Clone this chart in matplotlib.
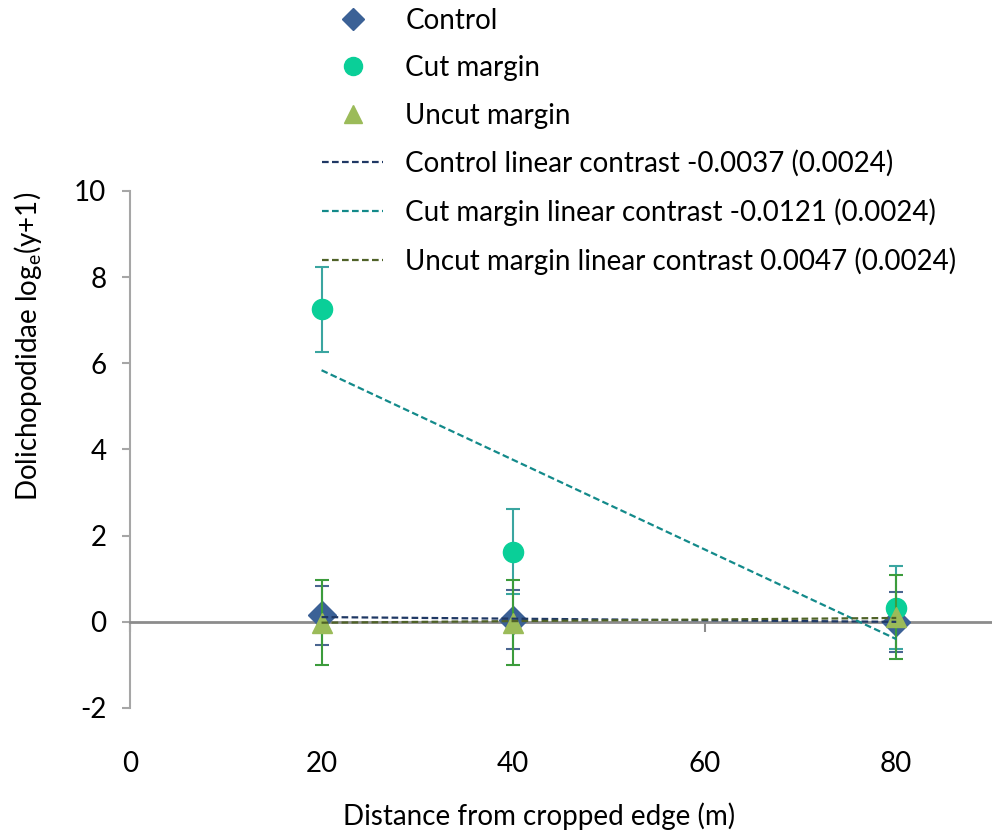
import matplotlib.pyplot as plt
from matplotlib.lines import Line2D

plt.rcParams['font.family'] = ['Lato', 'DejaVu Sans']
plt.rcParams['axes.unicode_minus'] = False

distance = [20, 40, 80]

control_mean = [0.15, 0.05, 0.0]
control_err = [0.69, 0.68, 0.69]
cut_mean = [7.25, 1.63, 0.33]
cut_err = [0.98, 0.98, 0.97]
uncut_mean = [-0.02, -0.02, 0.11]
uncut_err = [0.98, 0.98, 0.98]

# fitted contrast lines (ends at 20 m and 80 m)
trend_x = [20, 80]
control_trend = [0.11, 0.0]
cut_trend = [5.84, -0.40]
uncut_trend = [-0.02, 0.09]

trend_labels = ['Control linear contrast -0.0037 (0.0024)',
                'Cut margin linear contrast -0.0121 (0.0024)',
                'Uncut margin linear contrast 0.0047 (0.0024)']

fs = 20
dash = (0, (3, 1.5))
fig = plt.figure(figsize=(9.92, 8.34), dpi=100)
ax = fig.add_axes([130 / 992, 126 / 834, 862 / 992, 517 / 834])

ax.errorbar(distance, control_mean, yerr=control_err, fmt='D', color='#3b6196',
            ms=14, ecolor='#4a6590', elinewidth=1.5, capsize=4.7, capthick=1.5, zorder=3)
ax.errorbar(distance, cut_mean, yerr=cut_err, fmt='o', color='#0acf98',
            ms=14.5, ecolor='#3aa5a0', elinewidth=1.5, capsize=4.7, capthick=1.5, zorder=4)
ax.errorbar(distance, uncut_mean, yerr=uncut_err, fmt='^', color='#9bbb59',
            ms=15, ecolor='#3c9c3c', elinewidth=1.5, capsize=4.7, capthick=1.5, zorder=5)

ax.plot(trend_x, control_trend, ls=dash, color='#1f3864', lw=1.6, zorder=6)
ax.plot(trend_x, cut_trend, ls=dash, color='#138a8a', lw=1.6, zorder=6)
ax.plot(trend_x, uncut_trend, ls=dash, color='#4f6228', lw=1.6, zorder=6)

ax.set_xlim(0, 90)
ax.set_ylim(-2, 10)
ax.set_xticks([0, 20, 40, 60, 80])
ax.set_yticks([-2, 0, 2, 4, 6, 8, 10])

for s in ['top', 'right']:
    ax.spines[s].set_visible(False)
ax.spines['bottom'].set_position(('data', 0))
ax.spines['bottom'].set_color('#8c8c8c')
ax.spines['bottom'].set_linewidth(2)
ax.spines['left'].set_color('#a6a6a6')
ax.spines['left'].set_linewidth(1.5)
ax.tick_params(axis='x', direction='out', length=7, width=1.5, color='#8c8c8c',
               pad=86, labelsize=fs)
ax.tick_params(axis='y', direction='out', length=6, width=1.5, color='#a6a6a6',
               pad=11, labelsize=fs)

ax.set_xlabel('Distance from cropped edge (m)', fontsize=fs)
ax.xaxis.set_label_coords(0.474, -0.182)
ax.set_ylabel(r'Dolichopodidae log$_\mathregular{e}$(y+1)', fontsize=fs)
ax.yaxis.set_label_coords(-0.1, 0.70)

handles = [
    Line2D([], [], ls='none', marker='D', color='#3b6196', ms=11),
    Line2D([], [], ls='none', marker='o', color='#0acf98', ms=13),
    Line2D([], [], ls='none', marker='^', color='#9bbb59', ms=13),
    Line2D([], [], ls=dash, color='#1f3864', lw=1.6),
    Line2D([], [], ls=dash, color='#138a8a', lw=1.6),
    Line2D([], [], ls=dash, color='#4f6228', lw=1.6),
]
labels = ['Control', 'Cut margin', 'Uncut margin'] + trend_labels
fig.legend(handles, labels, loc='upper left', bbox_to_anchor=(311 / 992, 1.004),
           frameon=False, fontsize=fs, handlelength=2.2, handletextpad=0.8,
           labelspacing=0.77, borderaxespad=0.0)

fig.savefig('out.png', dpi=100)
